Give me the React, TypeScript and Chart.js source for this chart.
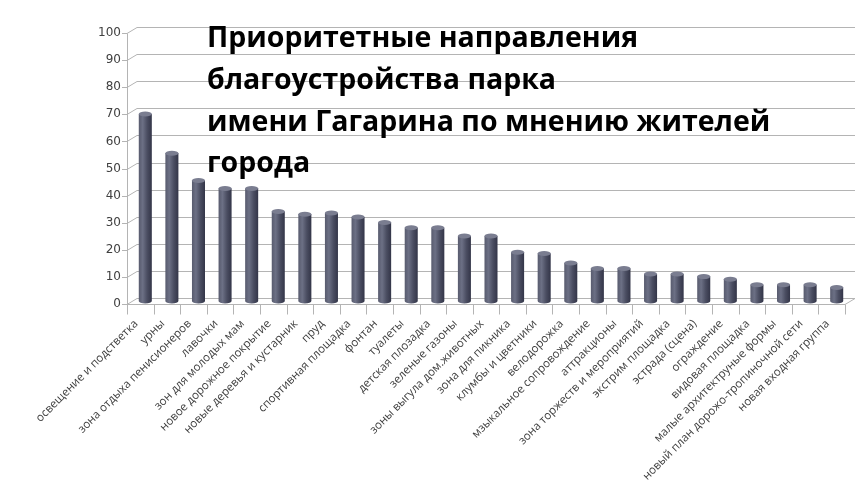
import { useEffect, useRef } from "react";
import { Chart, registerables } from "chart.js";

Chart.register(...registerables);

const categories = [
  "освещение и подстветка",
  "урны",
  "зона отдыха пенисионеров",
  "лавочки",
  "зон для молодых мам",
  "новое дорожное покрытие",
  "новые деревья и кустарник",
  "пруд",
  "спортивная площадка",
  "фонтан",
  "туалеты",
  "детская плозадка",
  "зеленые газоны",
  "зоны выгула дом.животных",
  "зона для пикника",
  "клумбы и цветники",
  "велодорожка",
  "мзыкальное сопровождение",
  "аттракционы",
  "зона торжеств и мероприятий",
  "экстрим площадка",
  "эстрада (сцена)",
  "ограждение",
  "видовая площадка",
  "малые архитектруные формы",
  "новый план дорожо-тропиночной сети",
  "новая входная группа",
];

const values = [
  69, 54.5, 44.5, 41.5, 41.5, 33, 32, 32.5, 31, 29, 27, 27, 24, 24, 18, 17.5, 14,
  12, 12, 10, 10, 9, 8, 6, 6, 6, 5,
];

const yTicks = [0, 10, 20, 30, 40, 50, 60, 70, 80, 90, 100];

const titleLines = [
  "Приоритетные направления",
  "благоустройства парка",
  "имени Гагарина по мнению жителей",
  "города",
];

export default function App() {
  const ref = useRef<HTMLCanvasElement>(null);

  useEffect(() => {
    document.body.style.margin = "0";
    const canvas = ref.current!;
    const DX = 5;
    const DY = 3;
    const gridColor = "#b4b4b4";

    const threeD = {
      id: "threeD",
      beforeDatasetsDraw(chart: any) {
        const { ctx, chartArea } = chart;
        const y = chart.scales.y;
        const x = chart.scales.x;
        const left = chartArea.left;
        const right = chartArea.right;
        ctx.save();
        ctx.strokeStyle = gridColor;
        ctx.lineWidth = 1;
        for (const v of yTicks) {
          const py = Math.round(y.getPixelForValue(v)) + 0.5;
          ctx.beginPath();
          ctx.moveTo(left - DX - 5, py + DY);
          ctx.lineTo(left - DX, py + DY);
          ctx.lineTo(left + DX, py - DY);
          ctx.lineTo(right + DX, py - DY);
          ctx.stroke();
        }
        const y0 = Math.round(y.getPixelForValue(0)) + 0.5;
        const y100 = Math.round(y.getPixelForValue(100)) + 0.5;
        ctx.beginPath();
        ctx.moveTo(left - DX + 0.5, y0 + DY);
        ctx.lineTo(left - DX + 0.5, y100 + DY);
        ctx.stroke();
        // floor front edge
        ctx.beginPath();
        ctx.moveTo(left - DX, y0 + DY);
        ctx.lineTo(right - DX, y0 + DY);
        ctx.lineTo(right + DX, y0 - DY);
        ctx.stroke();
        // category ticks
        const n = categories.length;
        const cw = (right - left) / n;
        for (let i = 0; i <= n; i++) {
          const bx = Math.round(x.getPixelForValue(Math.min(i, n - 1)) + (i === n ? cw / 2 : -cw / 2) - DX) + 0.5;
          ctx.beginPath();
          ctx.moveTo(bx, y0 + DY);
          ctx.lineTo(bx, y0 + DY + 10);
          ctx.stroke();
        }
        ctx.restore();
      },
      afterDatasetsDraw(chart: any) {
        const { ctx } = chart;
        const meta = chart.getDatasetMeta(0);
        ctx.save();
        meta.data.forEach((el: any) => {
          const { x, y, base, width } = el.getProps(["x", "y", "base", "width"], true);
          const l = x - width / 2;
          const r = x + width / 2;
          const g = ctx.createLinearGradient(l, 0, r, 0);
          g.addColorStop(0, "#585b6e");
          g.addColorStop(0.3, "#6c7085");
          g.addColorStop(0.65, "#4a4d61");
          g.addColorStop(1, "#333548");
          ctx.fillStyle = g;
          ctx.beginPath();
          ctx.moveTo(l, y);
          ctx.lineTo(l, base);
          ctx.ellipse(x, base, width / 2, 2.5, 0, Math.PI, 0, true);
          ctx.lineTo(r, y);
          ctx.closePath();
          ctx.fill();
          ctx.fillStyle = "#7a7d90";
          ctx.beginPath();
          ctx.ellipse(x, y, width / 2, 2.5, 0, 0, Math.PI * 2);
          ctx.fill();
        });
        ctx.restore();
      },
      afterDraw(chart: any) {
        const { ctx } = chart;
        ctx.save();
        ctx.fillStyle = "#000";
        ctx.font = "bold 28.5px 'Open Sans'";
        ctx.textAlign = "left";
        ctx.textBaseline = "alphabetic";
        titleLines.forEach((t, i) => {
          ctx.fillText(t, 207, 47 + 41.8 * i);
        });
        ctx.restore();
      },
    };

    const chart = new Chart(canvas, {
      type: "bar",
      data: {
        labels: categories,
        datasets: [
          {
            data: values,
            backgroundColor: "rgba(0,0,0,0)",
            borderWidth: 0,
            barPercentage: 0.49,
            categoryPercentage: 1,
          },
        ],
      },
      options: {
        responsive: false,
        animation: false,
        layout: { padding: { top: 30, right: 14, left: 0, bottom: 0 } },
        plugins: {
          legend: { display: false },
          tooltip: { enabled: false },
          title: { display: false },
        },
        scales: {
          x: {
            afterFit: (s: any) => {
              s.height = 182;
            },
            grid: { display: false, drawTicks: false },
            border: { display: false },
            ticks: {
              autoSkip: false,
              maxRotation: 45,
              minRotation: 45,
              labelOffset: -9,
              padding: 16,
              color: "#404040",
              font: { family: "'Open Sans'", size: 11.5 },
            },
          },
          y: {
            min: 0,
            max: 100,
            afterFit: (s: any) => {
              s.width = 132;
            },
            grid: { display: false, drawTicks: false },
            border: { display: false },
            ticks: {
              stepSize: 10,
              padding: 11,
              labelOffset: 3,
              color: "#404040",
              font: { family: "'DejaVu Sans'", size: 12 },
            },
          },
        },
      },
      plugins: [threeD],
    });
    return () => chart.destroy();
  }, []);

  return (
    <div style={{ width: 864, height: 483, background: "#fff" }}>
      <canvas ref={ref} width={864} height={483} />
    </div>
  );
}
